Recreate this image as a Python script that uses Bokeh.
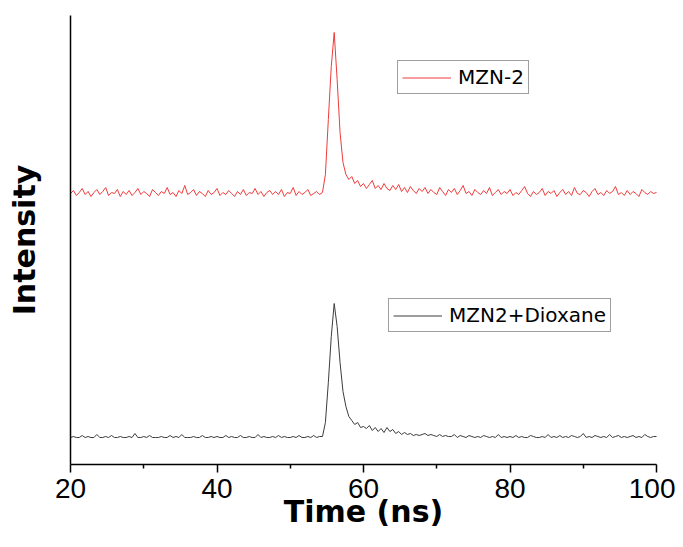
import math
import numpy as np
from bokeh.plotting import figure
from bokeh.models import Legend, LegendItem, FixedTicker, Range1d, Label
from bokeh.embed import file_html
from bokeh.resources import INLINE

# time axis (ns), 0.4 ns sampling
time_ns = np.linspace(20, 100, 201)

# MZN-2 (red, upper trace), intensity a.u.
mzn2 = [
    271, 274, 269, 272, 276, 270, 273, 268, 272, 275,
    270, 273, 277, 269, 272, 271, 275, 268, 273, 270,
    274, 269, 272, 276, 270, 273, 271, 268, 275, 272,
    269, 273, 271, 277, 270, 272, 268, 274, 271, 279,
    270, 272, 275, 269, 273, 271, 268, 274, 270, 272,
    276, 269, 272, 270, 274, 271, 268, 273, 270, 275,
    269, 272, 271, 276, 270, 273, 268, 272, 274, 270,
    273, 270, 275, 268, 272, 271, 277, 269, 273, 270,
    272, 275, 269, 271, 273, 270, 272, 290, 345, 398,
    432, 385, 332, 302, 290, 285, 288, 281, 284, 278,
    281, 276, 280, 284, 276, 279, 275, 281, 276, 274,
    279, 275, 280, 273, 277, 272, 278, 274, 271, 276,
    273, 277, 271, 275, 272, 270, 277, 273, 269, 275,
    272, 276, 270, 274, 279, 271, 273, 269, 275, 272,
    270, 274, 271, 277, 269, 272, 275, 270, 273, 271,
    275, 269, 272, 270, 274, 278, 271, 268, 273, 270,
    272, 276, 269, 273, 271, 274, 268, 272, 275, 270,
    273, 269, 277, 271, 270, 274, 272, 268, 273, 276,
    270, 272, 269, 274, 271, 273, 278, 270, 272, 269,
    274, 270, 273, 271, 268, 275, 272, 270, 273, 271,
    272,
]

# MZN2+Dioxane (dark, lower trace), intensity a.u.
mzn2_dioxane = [
    27, 28, 27, 27, 29, 27, 28, 27, 27, 30,
    27, 27, 28, 27, 29, 27, 27, 28, 27, 27,
    28, 27, 31, 27, 27, 28, 27, 29, 27, 27,
    27, 28, 27, 27, 29, 27, 28, 27, 30, 27,
    27, 27, 28, 27, 27, 29, 27, 27, 28, 27,
    28, 27, 27, 29, 27, 28, 27, 27, 29, 27,
    27, 28, 27, 27, 30, 27, 28, 27, 27, 28,
    27, 29, 27, 28, 27, 27, 28, 27, 29, 27,
    27, 28, 27, 29, 27, 28, 28, 42, 82, 128,
    161, 138, 102, 73, 58, 48, 44, 40, 42, 37,
    38, 36, 39, 34, 37, 33, 36, 32, 37, 33,
    35, 31, 33, 30, 32, 30, 31, 29, 30, 29,
    30, 31, 29, 30, 29, 28, 30, 28, 29, 28,
    28, 30, 27, 29, 28, 27, 29, 28, 27, 28,
    27, 29, 28, 27, 28, 27, 30, 27, 28, 27,
    28, 27, 29, 27, 28, 27, 27, 29, 28, 27,
    27, 28, 27, 30, 27, 28, 27, 29, 27, 28,
    27, 29, 28, 27, 28, 31, 27, 28, 27, 29,
    28, 27, 28, 27, 30, 27, 28, 29, 27, 28,
    27, 28, 29, 27, 28, 27, 30, 28, 27, 28,
    28,
]

x_ticks = [20, 40, 60, 80, 100]
x_minor = [30, 50, 70, 90]
labels = ["MZN-2", "MZN2+Dioxane"]
x_title = "Time (ns)"
y_title = "Intensity"

W, H = 675, 531
PX_PER_NS = 586 / 80.0
x0 = 20 - 70 / PX_PER_NS
x1 = 100 + (W - 656) / PX_PER_NS

p = figure(width=W, height=H, output_backend="svg", toolbar_location=None,
           x_range=Range1d(x0, x1), y_range=Range1d(-67, 464),
           min_border_left=0, min_border_right=0, min_border_top=0, min_border_bottom=0)
p.outline_line_color = None
p.xgrid.visible = False
p.ygrid.visible = False
p.background_fill_color = "white"
p.border_fill_color = "white"

r_red = p.line(time_ns, mzn2, line_color="#ef3b3b", line_width=1)
r_blk = p.line(time_ns, mzn2_dioxane, line_color="#3c3c3c", line_width=1)

xa = p.xaxis[0]
xa.fixed_location = 0
xa.bounds = (20, 100)
xa.ticker = FixedTicker(ticks=x_ticks, minor_ticks=x_minor)
xa.axis_line_width = 1.5
xa.axis_line_color = "black"
xa.major_tick_line_width = 1.5
xa.minor_tick_line_width = 1.5
xa.major_tick_out = 8
xa.major_tick_in = 0
xa.minor_tick_out = 4
xa.minor_tick_in = 0
xa.major_label_text_font = "Liberation Sans"
xa.major_label_text_font_size = "28px"
xa.major_label_text_color = "black"
xa.major_label_standoff = 6

ya = p.yaxis[0]
ya.fixed_location = 20
ya.bounds = (0, 449)
ya.ticker = FixedTicker(ticks=[])
ya.axis_line_width = 1.5
ya.axis_line_color = "black"
ya.major_tick_line_color = None
ya.minor_tick_line_color = None
ya.major_label_text_font_size = "0px"

p.add_layout(Label(x=60, y=-47, text=x_title, text_align="center",
                   text_baseline="middle", text_font="DejaVu Sans",
                   text_font_style="bold", text_font_size="30px", text_color="black"))
p.add_layout(Label(x=x0 + 24 / PX_PER_NS, y=224.5, text=y_title, angle=math.pi / 2,
                   text_align="center", text_baseline="middle", text_font="DejaVu Sans",
                   text_font_style="bold", text_font_size="30px", text_color="black"))


def make_legend(label, renderer, loc):
    return Legend(items=[LegendItem(label=label, renderers=[renderer])],
                  location=loc, orientation="vertical",
                  border_line_color="#404040", border_line_width=1,
                  background_fill_color="white", background_fill_alpha=1,
                  padding=4, margin=0, spacing=0,
                  glyph_width=49, glyph_height=21, label_height=21,
                  label_standoff=7,
                  label_text_font="DejaVu Sans", label_text_font_size="20px",
                  label_text_color="black")

# legend locations: pixels from the frame's bottom-left corner
p.add_layout(make_legend(labels[0], r_red, (397, 437)))
p.add_layout(make_legend(labels[1], r_blk, (388, 199)))

open("out.html", "w").write(file_html(p, INLINE))
